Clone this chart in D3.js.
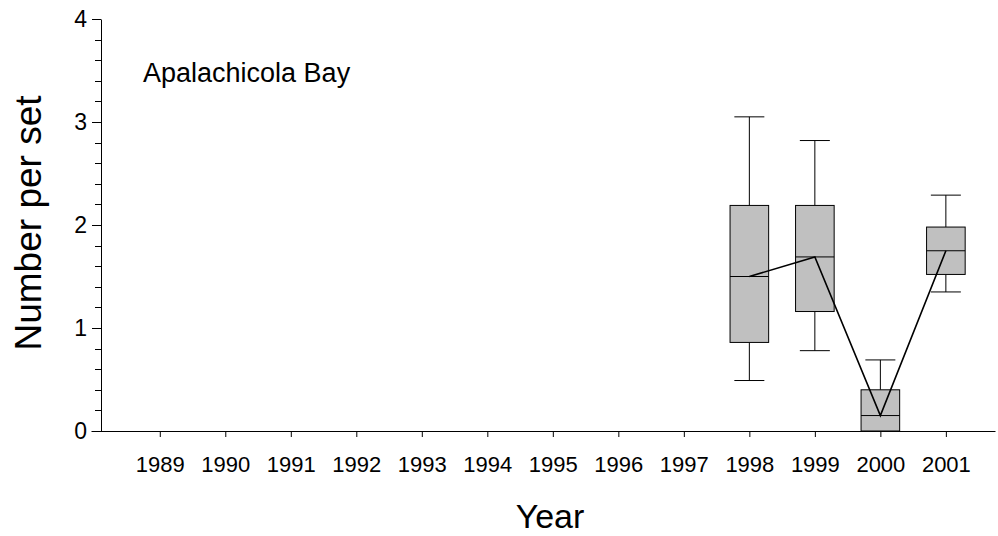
<!DOCTYPE html>
<html>
<head>
<meta charset="utf-8">
<script src="https://cdn.jsdelivr.net/npm/d3@7"></script>
<style>
    body { margin: 0; background: #fff; }
    svg { display: block; font-family: Arial, "Liberation Sans", sans-serif; }
</style>
</head>
<body>
<svg id="chart" width="998" height="536"></svg>
<script>
// tick years on the x axis
const years = [1989, 1990, 1991, 1992, 1993, 1994, 1995, 1996, 1997, 1998, 1999, 2000, 2001];
// years that have a box
const boxYears = [1998, 1999, 2000, 2001];
const whiskerHigh = [3.05, 2.82, 0.69, 2.29];
const q3 = [2.19, 2.19, 0.40, 1.98];
const median = [1.50, 1.69, 0.15, 1.75];
const q1 = [0.86, 1.16, 0.0, 1.52];
const whiskerLow = [0.49, 0.78, 0.0, 1.35];
const yTicks = [0, 1, 2, 3, 4];

const svg = d3.select('#chart');

const x = d3.scaleLinear().domain([1987.95, 2001.75]).range([91, 995]);
const y = d3.scaleLinear().domain([0, 4]).range([431, 19]);

const boxW = 38.6;
const capW = 30;

let boxes = boxYears.map((yr, i) => ({
    year: yr,
    hi: whiskerHigh[i],
    q3: q3[i],
    med: median[i],
    q1: q1[i],
    lo: whiskerLow[i]
}));

// whiskers first so the boxes sit on top
let g = svg.append('g').attr('class', 'boxes');
boxes.forEach(function (d) {
    let cx = x(d.year);
    let bg = g.append('g');
    bg.append('line')
        .attr('x1', cx).attr('x2', cx)
        .attr('y1', y(d.hi)).attr('y2', y(d.q3))
        .attr('stroke', '#000');
    bg.append('line')
        .attr('x1', cx - capW / 2).attr('x2', cx + capW / 2)
        .attr('y1', y(d.hi)).attr('y2', y(d.hi))
        .attr('stroke', '#000');
    if (d.lo < d.q1) {
        bg.append('line')
            .attr('x1', cx).attr('x2', cx)
            .attr('y1', y(d.q1)).attr('y2', y(d.lo))
            .attr('stroke', '#000');
        bg.append('line')
            .attr('x1', cx - capW / 2).attr('x2', cx + capW / 2)
            .attr('y1', y(d.lo)).attr('y2', y(d.lo))
            .attr('stroke', '#000');
    }
    bg.append('rect')
        .attr('x', cx - boxW / 2)
        .attr('y', y(d.q3))
        .attr('width', boxW)
        .attr('height', y(d.q1) - y(d.q3))
        .attr('fill', '#c0c0c0')
        .attr('stroke', '#000');
    bg.append('line')
        .attr('x1', cx - boxW / 2).attr('x2', cx + boxW / 2)
        .attr('y1', y(d.med)).attr('y2', y(d.med))
        .attr('stroke', '#000');
});

// line joining the medians
let line = d3.line()
    .x(d => x(d.year))
    .y(d => y(d.med));
svg.append('path')
    .datum(boxes)
    .attr('d', line)
    .attr('fill', 'none')
    .attr('stroke', '#000')
    .attr('stroke-width', 1.6);

// x axis
let xAxis = svg.append('g')
    .attr('transform', `translate(0,${y(0)})`)
    .call(d3.axisBottom(x).tickValues(years).tickFormat(d3.format('d')).tickSizeInner(6).tickSizeOuter(0));
xAxis.selectAll('text')
    .attr('y', 25)
    .attr('dy', '0.71em')
    .style('font-size', '22px')
    .attr('fill', '#000');

// y axis with minor ticks
let yAxis = svg.append('g')
    .attr('transform', `translate(${x.range()[0] + 10},0)`)
    .call(d3.axisLeft(y).tickValues(yTicks).tickFormat(d3.format('d')).tickSizeInner(9).tickSizeOuter(0).tickPadding(5));
yAxis.selectAll('text')
    .style('font-size', '23px')
    .attr('fill', '#000');
yAxis.selectAll('.minor')
    .data(d3.range(1, 20).filter(i => i % 5 != 0).map(i => i * 0.2))
    .join('line')
    .attr('class', 'minor')
    .attr('x1', -6).attr('x2', 0)
    .attr('y1', d => Math.round(y(d)) + 0.5)
    .attr('y2', d => Math.round(y(d)) + 0.5)
    .attr('stroke', '#000');

svg.selectAll('.domain, .tick line').attr('stroke', '#000');

svg.append('text')
    .attr('x', 143)
    .attr('y', 82)
    .style('font-size', '27px')
    .text('Apalachicola Bay');

svg.append('text')
    .attr('transform', 'translate(41,223) rotate(-90)')
    .attr('text-anchor', 'middle')
    .style('font-size', '37px')
    .text('Number per set');

svg.append('text')
    .attr('x', 550)
    .attr('y', 528)
    .attr('text-anchor', 'middle')
    .style('font-size', '34px')
    .text('Year');
</script>
</body>
</html>
